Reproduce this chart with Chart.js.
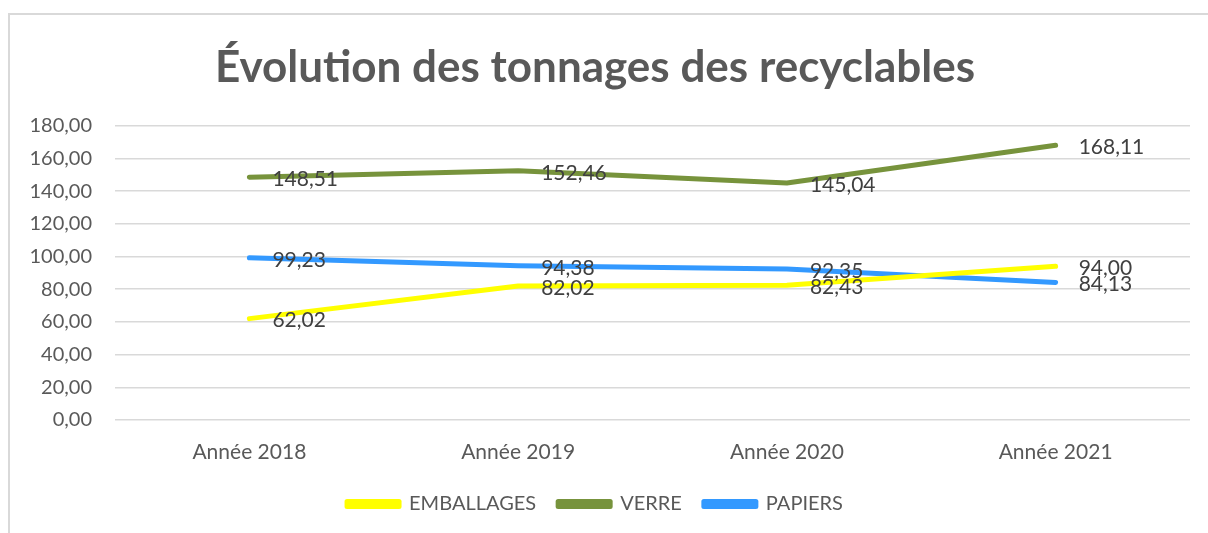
<!DOCTYPE html>
<html>
<head>
<meta charset="utf-8">
<script src="https://cdn.jsdelivr.net/npm/chart.js@4/dist/chart.umd.min.js"></script>
<style>
  body { margin: 0; background: #fff; }
  #frame {
    position: absolute; left: 8px; top: 13px;
    width: 1400px; height: 700px;
    border: 2px solid #d9d9d9;
  }
  #wrap { position: absolute; left: 0; top: 0; width: 1208px; height: 533px; }
</style>
</head>
<body>
<div id="frame"></div>
<div id="wrap"><canvas id="chart"></canvas></div>
<script>
const years = ["Année 2018", "Année 2019", "Année 2020", "Année 2021"];
const emballages = [62.02, 82.02, 82.43, 94.00];
const verre = [148.51, 152.46, 145.04, 168.11];
const papiers = [99.23, 94.38, 92.35, 84.13];
const yTicks = [0, 20, 40, 60, 80, 100, 120, 140, 160, 180];

const fr = v => v.toFixed(2).replace('.', ',');
const fontFamily = "Lato, 'Open Sans', sans-serif";

// labels drawn right of each point, like Excel "right" position
const pointLabels = {
    id: 'pointLabels',
    afterDatasetsDraw(chart) {
        const ctx = chart.ctx;
        ctx.save();
        ctx.font = "21px " + fontFamily;
        ctx.fillStyle = "#404040";
        ctx.textAlign = "left";
        ctx.textBaseline = "middle";
        chart.data.datasets.forEach((ds, i) => {
            chart.getDatasetMeta(i).data.forEach((pt, j) => {
                ctx.fillText(fr(ds.data[j]), pt.x + 23, pt.y + 2);
            });
        });
        ctx.restore();
    }
};

new Chart(document.getElementById("chart"), {
    type: "line",
    data: {
        labels: years,
        datasets: [
            { label: "EMBALLAGES", data: emballages, borderColor: "#ffff00", backgroundColor: "#ffff00" },
            { label: "VERRE", data: verre, borderColor: "#77933c", backgroundColor: "#77933c" },
            { label: "PAPIERS", data: papiers, borderColor: "#3399ff", backgroundColor: "#3399ff" }
        ]
    },
    options: {
        responsive: true,
        maintainAspectRatio: false,
        animation: false,
        elements: {
            line: { borderWidth: 5, tension: 0, borderCapStyle: "round", borderJoinStyle: "round" },
            point: { radius: 0 }
        },
        layout: { padding: { left: 0, right: 18, top: 0, bottom: 9 } },
        scales: {
            x: {
                offset: true,
                grid: { display: false, drawTicks: false },
                border: { display: false },
                ticks: { color: "#595959", font: { family: fontFamily, size: 21 }, padding: 20 },
                afterFit: s => { s.height = 52; }
            },
            y: {
                min: 0,
                max: 180,
                afterBuildTicks: s => { s.ticks = yTicks.map(v => ({ value: v })); },
                grid: { color: "#d9d9d9", lineWidth: 1.5, drawTicks: false },
                border: { display: false },
                ticks: {
                    color: "#595959",
                    font: { family: fontFamily, size: 20 },
                    padding: 23,
                    callback: v => fr(v)
                },
                afterFit: s => { s.width = 115; }
            }
        },
        plugins: {
            title: {
                display: true,
                text: "Évolution des tonnages des recyclables",
                color: "#595959",
                font: { family: fontFamily, size: 44, weight: "bold" },
                padding: { top: 41, bottom: 32 }
            },
            legend: {
                position: "bottom",
                labels: {
                    color: "#595959",
                    font: { family: fontFamily, size: 20 },
                    boxWidth: 52,
                    boxHeight: 5,
                    padding: 22
                }
            },
            tooltip: { enabled: false }
        }
    },
    plugins: [pointLabels]
});
</script>
</body>
</html>
